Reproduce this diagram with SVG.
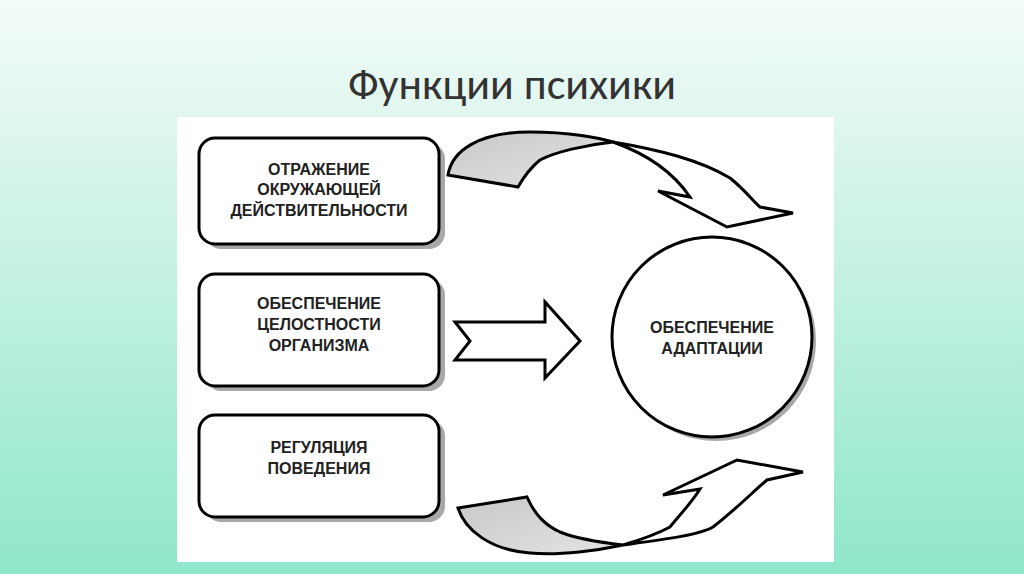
<svg xmlns="http://www.w3.org/2000/svg" width="1024" height="574" viewBox="0 0 1024 574">
<defs>
<linearGradient id="bg" x1="0" y1="0" x2="0" y2="1"><stop offset="0" stop-color="#f4fbf8"/><stop offset="1" stop-color="#8fe6cb"/></linearGradient>
<linearGradient id="gr" x1="0" y1="0" x2="1" y2="1"><stop offset="0" stop-color="#c8c8c8"/><stop offset="1" stop-color="#e4e4e4"/></linearGradient>
</defs>
<style>
.b{fill:#fff;stroke:#000;stroke-width:3}
.sh{fill:#a8a8a8}
.t{font-family:"Liberation Sans",Arial,sans-serif;font-weight:bold;font-size:16px;fill:#222;text-anchor:middle}
.a{stroke:#000;stroke-width:3;stroke-linejoin:miter}
</style>
<rect width="1024" height="574" fill="url(#bg)"/>
<text x="512" y="99" font-family="Calibri,'Liberation Sans',sans-serif" font-size="44" fill="#333" text-anchor="middle">Функции психики</text>
<rect x="177" y="117" width="657" height="445" fill="#fff"/>
<g id="n1"><rect class="sh" x="205" y="143" width="240" height="106" rx="16"/><rect class="b" x="199" y="138" width="240" height="106" rx="16"/>
<text class="t" x="319" y="175">ОТРАЖЕНИЕ</text><text class="t" x="319" y="195">ОКРУЖАЮЩЕЙ</text><text class="t" x="319" y="216">ДЕЙСТВИТЕЛЬНОСТИ</text></g>
<g id="n2"><rect class="sh" x="205" y="279" width="240" height="112" rx="16"/><rect class="b" x="199" y="274" width="240" height="112" rx="16"/>
<text class="t" x="319" y="309">ОБЕСПЕЧЕНИЕ</text><text class="t" x="319" y="330">ЦЕЛОСТНОСТИ</text><text class="t" x="319" y="351">ОРГАНИЗМА</text></g>
<g id="n3"><rect class="sh" x="205" y="420" width="240" height="102" rx="16"/><rect class="b" x="199" y="415" width="240" height="102" rx="16"/>
<text class="t" x="319" y="453">РЕГУЛЯЦИЯ</text><text class="t" x="319" y="474">ПОВЕДЕНИЯ</text></g>
<g id="n4"><circle class="sh" cx="716" cy="341" r="100"/><circle class="b" cx="712" cy="337" r="100"/>
<text class="t" x="712" y="333">ОБЕСПЕЧЕНИЕ</text><text class="t" x="712" y="354">АДАПТАЦИИ</text></g>
<g id="connectors">
<path class="a" fill="url(#gr)" d="M448,175 C452,150 480,132 530,132 C570,132 600,138 613,142 C585,145 555,152 540,160 C530,168 522,180 518,187 Z"/>
<path class="a" fill="#fff" d="M613,142 C660,150 700,160 730,178 C745,190 752,200 760,207 L793,213 L727,227 L658,191 L690,197 C675,175 650,155 613,142 Z"/>
<path class="a" fill="#fff" d="M455,322 L545,322 L545,302 L580,341 L545,378 L545,360 L455,360 L470,341 Z"/>
<path class="a" fill="url(#gr)" d="M458,508 L527,497 C535,515 545,525 560,532 C580,540 605,543 623,545 C600,550 560,556 530,553 C490,550 465,530 458,508 Z"/>
<path class="a" fill="#fff" d="M623,545 C660,540 700,535 713,527 C735,510 755,490 767,480 L803,472 L737,460 L663,495 L700,489 C690,505 675,520 670,527 C655,535 640,540 623,545 Z"/>
</g>
</svg>
